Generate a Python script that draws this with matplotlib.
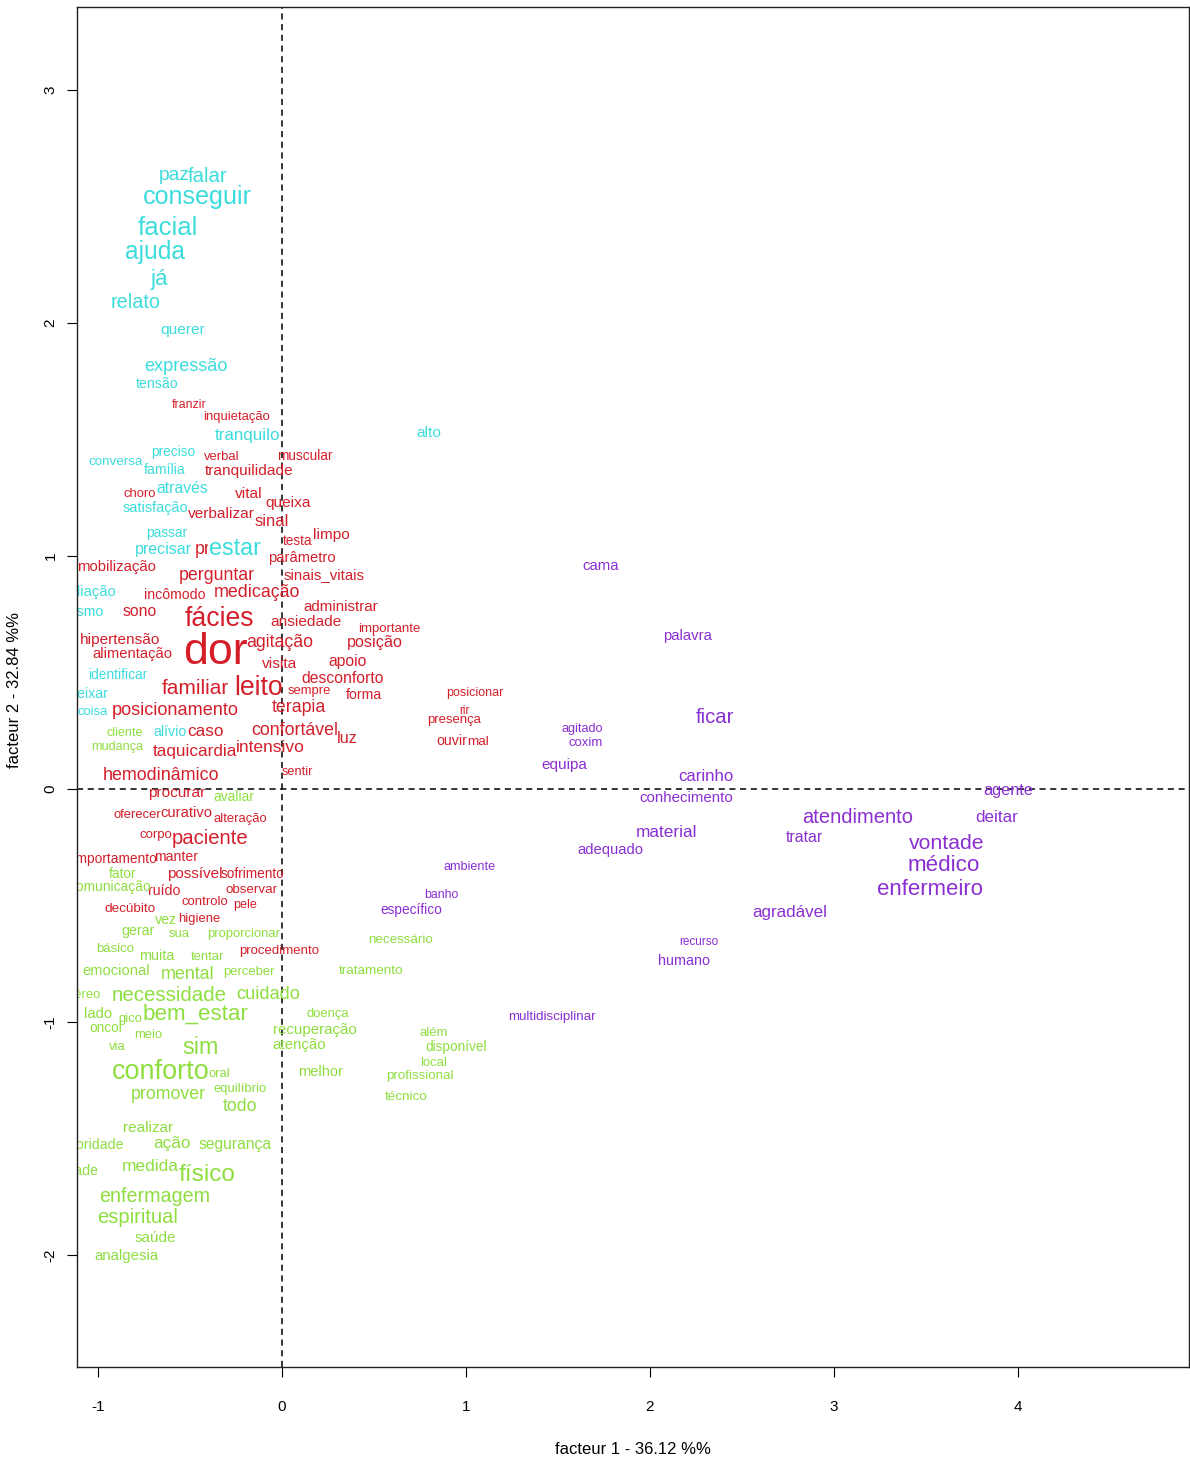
import matplotlib
matplotlib.use("Agg")
import matplotlib.pyplot as plt
from matplotlib import font_manager as fm

# ---------------------------------------------------------------------------
# Factor coordinates (facteur 1, facteur 2) and weight of each word, by class
# ---------------------------------------------------------------------------
words_red = ["franzir", "inquietação", "verbal", "tranquilidade", "muscular", "choro",
             "vital", "queixa", "verbalizar", "sinal", "prestar", "testa", "limpo",
             "parâmetro", "sinais_vitais", "perguntar", "mobilização", "incômodo",
             "medicação", "sono", "fácies", "ansiedade", "administrar", "importante",
             "agitação", "posição", "hipertensão", "alimentação", "dor", "visita", "apoio",
             "desconforto", "familiar", "leito", "sempre", "forma", "posicionamento",
             "terapia", "posicionar", "rir", "presença", "ouvir", "mal", "confortável",
             "luz", "intensivo", "sentir", "caso", "taquicardia", "hemodinâmico",
             "procurar", "oferecer", "curativo", "alteração", "corpo", "paciente",
             "comportamento", "manter", "possível", "sofrimento", "ruído", "observar",
             "decúbito", "controlo", "pele", "higiene", "procedimento"]
x_red = [-0.505, -0.244, -0.326, -0.179, 0.125, -0.771, -0.179, 0.033, -0.331, -0.054,
         -0.320, 0.087, 0.271, 0.109, 0.228, -0.353, -0.896, -0.581, -0.136, -0.771,
         -0.337, 0.130, 0.320, 0.586, -0.011, 0.505, -0.879, -0.814, -0.358, -0.011,
         0.358, 0.331, -0.472, -0.125, 0.147, 0.445, -0.581, 0.092, 1.048, 0.993, 0.934,
         0.923, 1.064, 0.071, 0.353, -0.065, 0.087, -0.413, -0.472, -0.657, -0.570,
         -0.787, -0.516, -0.228, -0.685, -0.391, -0.939, -0.575, -0.472, -0.157, -0.641,
         -0.163, -0.825, -0.418, -0.201, -0.451, -0.016]
y_red = [1.648, 1.597, 1.425, 1.365, 1.429, 1.266, 1.266, 1.227, 1.180, 1.150, 1.030,
         1.064, 1.090, 0.991, 0.918, 0.918, 0.953, 0.833, 0.845, 0.760, 0.730, 0.717,
         0.781, 0.687, 0.631, 0.627, 0.639, 0.579, 0.588, 0.536, 0.549, 0.476, 0.433,
         0.433, 0.421, 0.403, 0.339, 0.348, 0.412, 0.335, 0.296, 0.206, 0.202, 0.253,
         0.215, 0.180, 0.073, 0.245, 0.163, 0.060, -0.017, -0.112, -0.103, -0.129,
         -0.197, -0.210, -0.300, -0.292, -0.365, -0.365, -0.438, -0.433, -0.515, -0.485,
         -0.498, -0.558, -0.695]
w_red = [10.5, 11, 11, 13, 11.5, 11, 13, 13, 13, 14, 15, 11.5, 13, 12.5, 12.7, 15, 12.6,
         12, 15.2, 13.4, 22.5, 13, 12.8, 11.2, 15, 13.8, 13, 12.5, 38, 13, 13.3, 13.4,
         17.7, 22.5, 11, 12, 15.4, 15, 10.6, 10, 11.1, 12, 11.4, 15, 13.7, 14.7, 10.8,
         14.6, 14.5, 15.1, 13, 11, 12.5, 11, 11.2, 17.2, 11.6, 12, 12.9, 11.5, 12, 11.3,
         11.4, 11.1, 10.7, 11, 11.2]

words_cyan = ["paz", "falar", "conseguir", "facial", "ajuda", "já", "relato", "querer",
              "expressão", "tensão", "tranquilo", "alto", "preciso", "conversa", "família",
              "através", "satisfação", "passar", "precisar", "estar", "avaliação",
              "organismo", "identificar", "deixar", "coisa", "alívio"]
x_cyan = [-0.586, -0.402, -0.461, -0.619, -0.689, -0.668, -0.793, -0.537, -0.521, -0.679,
          -0.185, 0.798, -0.592, -0.901, -0.635, -0.543, -0.689, -0.624, -0.641, -0.255,
          -1.069, -1.151, -0.890, -1.050, -1.026, -0.608]
y_cyan = [2.635, 2.627, 2.541, 2.408, 2.305, 2.185, 2.086, 1.970, 1.815, 1.738, 1.519,
          1.528, 1.446, 1.403, 1.369, 1.288, 1.206, 1.099, 1.030, 1.034, 0.845, 0.760,
          0.489, 0.408, 0.330, 0.245]
w_cyan = [16.3, 17.2, 21.3, 21.8, 20.8, 19, 16.8, 13.1, 15.4, 12, 14.4, 13, 11.7, 11.3,
          11.9, 13.4, 12.3, 11.7, 13.6, 19.7, 12.5, 12, 11.7, 12, 11, 12]

words_green = ["cliente", "mudança", "avaliar", "fator", "comunicação", "vez", "gerar",
               "sua", "proporcionar", "básico", "muita", "tentar", "emocional", "mental",
               "perceber", "tratamento", "necessário", "aéreo", "necessidade", "cuidado",
               "lado", "gico", "bem_estar", "oncol", "meio", "via", "sim", "conforto",
               "oral", "equilíbrio", "promover", "todo", "doença", "recuperação",
               "atenção", "melhor", "além", "disponível", "local", "profissional",
               "técnico", "realizar", "prioridade", "ação", "segurança", "qualidade",
               "medida", "físico", "enfermagem", "espiritual", "saúde", "analgesia"]
x_green = [-0.852, -0.896, -0.261, -0.863, -0.934, -0.630, -0.782, -0.559, -0.206, -0.907,
           -0.679, -0.402, -0.901, -0.510, -0.179, 0.483, 0.646, -1.075, -0.613, -0.076,
           -0.999, -0.825, -0.467, -0.955, -0.727, -0.896, -0.440, -0.657, -0.342, -0.228,
           -0.619, -0.228, 0.250, 0.179, 0.092, 0.212, 0.825, 0.945, 0.825, 0.749, 0.679,
           -0.727, -1.034, -0.597, -0.255, -1.164, -0.717, -0.407, -0.689, -0.782, -0.689,
           -0.847]
y_green = [0.240, 0.180, -0.034, -0.365, -0.421, -0.562, -0.609, -0.622, -0.622, -0.687,
           -0.717, -0.721, -0.781, -0.794, -0.785, -0.781, -0.648, -0.884, -0.884, -0.880,
           -0.966, -0.987, -0.966, -1.026, -1.056, -1.107, -1.107, -1.215, -1.223, -1.288,
           -1.309, -1.361, -0.966, -1.034, -1.099, -1.215, -1.047, -1.107, -1.176, -1.232,
           -1.322, -1.455, -1.528, -1.519, -1.524, -1.639, -1.618, -1.657, -1.747, -1.837,
           -1.927, -2.004]
w_green = [10.6, 10.7, 11.6, 11.5, 11.7, 12, 12, 11, 11, 11.2, 12.2, 11, 12.5, 15.2, 11.1,
           11.4, 11.3, 11, 17.4, 15.5, 12.5, 11, 19, 11.5, 11, 11, 19.8, 23, 11, 11, 15, 15,
           11, 12.8, 12.8, 12.4, 11, 11.5, 11, 11.3, 11.4, 12.9, 12, 14.6, 13.2, 12, 14.7,
           20.7, 16.7, 17.1, 12.9, 12.7]

words_purple = ["cama", "palavra", "ficar", "agitado", "coxim", "equipa", "carinho",
                "conhecimento", "material", "adequado", "atendimento", "tratar", "agente",
                "deitar", "vontade", "médico", "enfermeiro", "agradável", "recurso",
                "humano", "ambiente", "banho", "específico", "multidisciplinar"]
x_purple = [1.732, 2.204, 2.356, 1.634, 1.650, 1.536, 2.307, 2.199, 2.090, 1.786, 3.127,
            2.839, 3.947, 3.882, 3.616, 3.599, 3.523, 2.763, 2.264, 2.188, 1.021, 0.869,
            0.706, 1.466]
y_purple = [0.957, 0.657, 0.309, 0.258, 0.197, 0.103, 0.056, -0.039, -0.185, -0.262,
            -0.120, -0.206, -0.004, -0.124, -0.232, -0.330, -0.429, -0.528, -0.657, -0.738,
            -0.335, -0.455, -0.519, -0.979]
w_purple = [12.6, 12.6, 17.2, 10.7, 11.1, 12.9, 14.2, 12.7, 14.6, 12.6, 17.1, 13.5, 13.8,
            14.4, 18, 19, 18.7, 14.4, 10, 12.2, 10.7, 10.4, 11.7, 11.3]

x_ticks = [-1, 0, 1, 2, 3, 4]
y_ticks = [-2, -1, 0, 1, 2, 3]
x_label = "facteur 1 - 36.12 %%"
y_label = "facteur 2 - 32.84 %%"

# ---------------------------------------------------------------------------
available = {f.name for f in fm.fontManager.ttflist}
if "Liberation Sans Narrow" in available:
    FAMILY, SCALE = "Liberation Sans Narrow", 1.0
else:
    FAMILY, SCALE = "Liberation Sans", 0.85
plt.rcParams["font.family"] = [FAMILY, "DejaVu Sans"]

W, H = 1190, 1461
fig = plt.figure(figsize=(W / 100, H / 100), dpi=100)
ax = fig.add_axes([77 / W, 1 - 1367 / H, (1189 - 77) / W, (1367 - 7) / H])
ax.set_xlim(-1.113, 4.93)
ax.set_ylim(-2.48, 3.356)

ax.axhline(0, color="black", lw=1.1, ls=(0, (4, 3)), zorder=1)
ax.axvline(0, color="black", lw=1.1, ls=(0, (4, 3)), zorder=1)

classes = [
    (words_red, x_red, y_red, w_red, "#d41f2b"),
    (words_cyan, x_cyan, y_cyan, w_cyan, "#3ddcdc"),
    (words_green, x_green, y_green, w_green, "#8ede40"),
    (words_purple, x_purple, y_purple, w_purple, "#8a2fd2"),
]
for words, xs, ys, ws, col in classes:
    for w, x, y, s in zip(words, xs, ys, ws):
        kw = {}
        if w == "estar":
            # drawn on a white box, over the red word beneath it
            kw["bbox"] = dict(facecolor="white", edgecolor="none", pad=0.5)
        ax.text(x, y, w, color=col, fontsize=s * SCALE, ha="center", va="center",
                clip_on=True, zorder=3 if w == "estar" else 2, **kw)

ax.set_xticks(x_ticks)
ax.set_yticks(y_ticks)
ax.set_xticklabels([str(t) for t in x_ticks])
ax.set_yticklabels([str(t) for t in y_ticks], rotation=90, va="center")
ax.tick_params(axis="x", direction="out", length=7, width=0.8, pad=17, labelsize=11)
ax.tick_params(axis="y", direction="out", length=7, width=0.8, pad=7, labelsize=11)
for sp in ax.spines.values():
    sp.set_linewidth(1.0)
    sp.set_color("#222222")

fig.text(633 / W, 1 - 1449 / H, x_label, ha="center", va="center", fontsize=12)
fig.text(15 / W, 1 - 690 / H, y_label, ha="center", va="center", fontsize=12, rotation=90)

fig.savefig("out.png", dpi=100)
